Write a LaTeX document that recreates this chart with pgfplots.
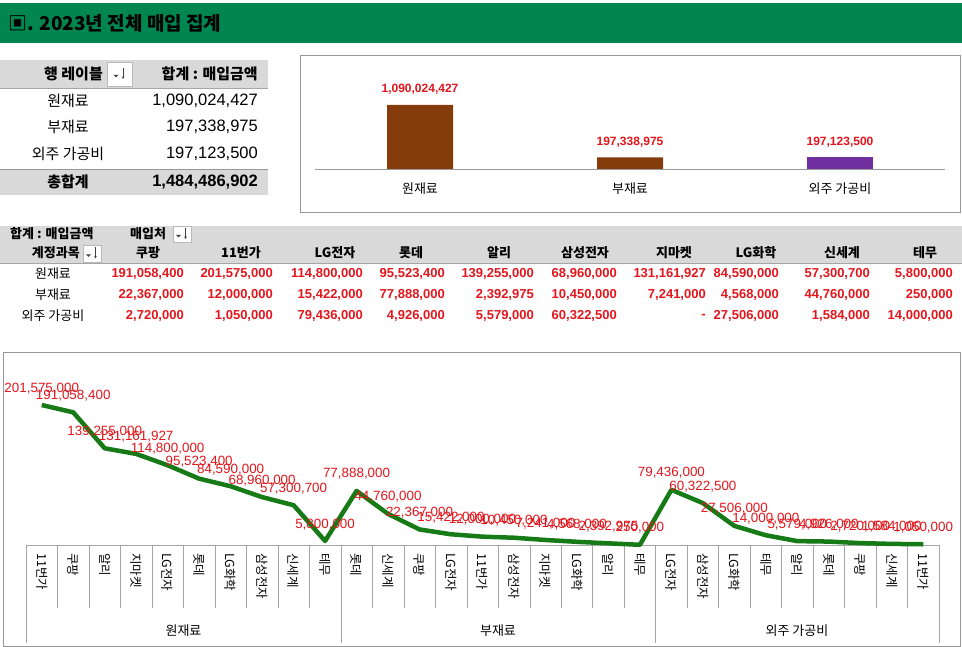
\documentclass[border=0pt]{standalone}
\usepackage{fontspec}
\setmainfont{Noto Sans CJK KR}
\newfontfamily\numf{Liberation Sans}
\usepackage{pgfplots}
\pgfplotsset{compat=1.18}
\usepackage{pgfplotstable}
\usetikzlibrary{arrows.meta}

\definecolor{hdrgreen}{RGB}{0,134,78}
\definecolor{tgray}{RGB}{217,217,217}
\definecolor{vred}{RGB}{226,22,28}
\definecolor{barbrown}{RGB}{132,60,12}
\definecolor{barpurple}{RGB}{112,48,160}
\definecolor{linegreen}{RGB}{22,122,22}
\definecolor{boxgray}{RGB}{150,150,150}
\newcommand\fs[1]{\fontsize{#1}{#1}\selectfont}

% 행 레이블 totals
\pgfplotstableread{
x y lbl
0 1090024427 1,090,024,427
1 197338975 197,338,975
}\bardata
\pgfplotstableread{
x y lbl
2 197123500 197,123,500
}\barpurpledata

% 계정과목 > 매입처, sorted within each group
\pgfplotstableread{
x y lbl cat
0 201575000 201,575,000 11번가
1 191058400 191,058,400 쿠팡
2 139255000 139,255,000 알리
3 131161927 131,161,927 지마켓
4 114800000 114,800,000 LG전자
5 95523400 95,523,400 롯데
6 84590000 84,590,000 LG화학
7 68960000 68,960,000 삼성전자
8 57300700 57,300,700 신세계
9 5800000 5,800,000 테무
10 77888000 77,888,000 롯데
11 44760000 44,760,000 신세계
12 22367000 22,367,000 쿠팡
13 15422000 15,422,000 LG전자
14 12000000 12,000,000 11번가
15 10450000 10,450,000 삼성전자
16 7241000 7,241,000 지마켓
17 4568000 4,568,000 LG화학
18 2392975 2,392,975 알리
19 250000 250,000 테무
20 79436000 79,436,000 LG전자
21 60322500 60,322,500 삼성전자
22 27506000 27,506,000 LG화학
23 14000000 14,000,000 테무
24 5579000 5,579,000 알리
25 4926000 4,926,000 롯데
26 2720000 2,720,000 쿠팡
27 1584000 1,584,000 신세계
28 1050000 1,050,000 11번가
}\linedata

\newcommand\filterbtn[4]{%
  \draw[gray!55, fill=white] (#1,#2) rectangle (#3,#4);
  \fill[black!75] ({(#1+#3)/2-6},{(#2+#4)/2-1}) -- ++(5,0) -- ++(-2.5,-2.5) -- cycle;
  \draw[black!75, line width=0.6pt, -{Stealth[length=2.5pt,width=2.5pt]}] ({(#1+#3)/2+3.5},{(#2+#4)/2+6}) -- ({(#1+#3)/2+3.5},{(#2+#4)/2-5});
}

\begin{document}
\begin{tikzpicture}[x=1pt,y=1pt]
\useasboundingbox (0,0) rectangle (962,647);

% title band
\fill[hdrgreen] (0,604) rectangle (962,644);
\node[anchor=west, inner sep=0, font=\fs{19}\bfseries] at (8,624) {▣. 2023년 전체 매입 집계};

% pivot table 1
\fill[tgray] (0,559) rectangle (268,587);
\draw[gray!70] (0,559) -- (268,559);
\node[anchor=east, inner sep=0, font=\fs{15}\bfseries] at (103,573) {행 레이블};
\filterbtn{107}{561}{132}{585}
\node[anchor=east, inner sep=0, font=\fs{15}\bfseries] at (258,573) {합계 : 매입금액};
\node[font=\fs{15}] at (68,546) {원재료};
\node[font=\fs{15}] at (68,520) {부재료};
\node[font=\fs{15}] at (68,493) {외주 가공비};
\node[anchor=east, inner sep=0, font=\numf\fs{16.5}] at (258,546) {1,090,024,427};
\node[anchor=east, inner sep=0, font=\numf\fs{16.5}] at (258,520) {197,338,975};
\node[anchor=east, inner sep=0, font=\numf\fs{16.5}] at (258,493) {197,123,500};
\fill[tgray] (0,452) rectangle (268,478);
\draw[gray!80] (0,478) -- (268,478);
\node[font=\fs{15}\bfseries] at (68,465) {총합계};
\node[anchor=east, inner sep=0, font=\numf\fs{16.5}\bfseries] at (258,465) {1,484,486,902};

% bar chart
\draw[boxgray, fill=white] (300,435) rectangle (960,592);
\begin{axis}[
  at={(315pt,478pt)}, anchor=south west,
  scale only axis, width=630pt, height=100pt,
  xmin=-0.5, xmax=2.5, ymin=0, ymax=1.7032e9,
  hide y axis, axis x line*=bottom,
  x axis line style={-, gray!80, line width=0.8pt},
  xtick={0,1,2}, xticklabels={원재료,부재료,외주 가공비},
  major tick length=0pt,
  xticklabel style={font=\fs{13}, inner sep=0pt, anchor=north, yshift=-14pt},
  ybar, bar width=66pt, /pgf/bar shift=0pt,
  point meta=explicit symbolic,
  nodes near coords,
  nodes near coords style={font=\numf\fs{12}\bfseries, text=vred, anchor=south, inner sep=0pt, yshift=10pt},
  clip=false,
]
  \addplot[fill=barbrown, draw=none] table[x=x, y=y, meta=lbl] {\bardata};
  \addplot[fill=barpurple, draw=none] table[x=x, y=y, meta=lbl] {\barpurpledata};
\end{axis}

% pivot table 2
\fill[tgray] (0,384) rectangle (962,421);
\draw[gray!70] (0,384) -- (962,384);
\node[anchor=west, inner sep=0, font=\fs{13}\bfseries] at (10,413) {합계 : 매입금액};
\node[anchor=west, inner sep=0, font=\fs{13}\bfseries] at (130,413) {매입처};
\filterbtn{173}{405}{191}{421}
\node[anchor=east, inner sep=0, font=\fs{13}\bfseries] at (80,394) {계정과목};
\filterbtn{83}{385}{101}{402}
\node[font=\fs{13}] at (53,373) {원재료};
\node[font=\fs{13}] at (53,352) {부재료};
\node[font=\fs{13}] at (53,331) {외주 가공비};
\foreach \nm/\cx/\rx/\va/\vb/\vc in {
  쿠팡/148/184/{191,058,400}/{22,367,000}/{2,720,000},
  11번가/241/273/{201,575,000}/{12,000,000}/{1,050,000},
  LG전자/335/363/{114,800,000}/{15,422,000}/{79,436,000},
  롯데/411/445/{95,523,400}/{77,888,000}/{4,926,000},
  알리/499/534/{139,255,000}/{2,392,975}/{5,579,000},
  삼성전자/585/617/{68,960,000}/{10,450,000}/{60,322,500},
  지마켓/674/706/{131,161,927}/{7,241,000}/{-\hspace{3pt}},
  LG화학/756/779/{84,590,000}/{4,568,000}/{27,506,000},
  신세계/842/870/{57,300,700}/{44,760,000}/{1,584,000},
  테무/925/953/{5,800,000}/{250,000}/{14,000,000}} {
  \node[font=\fs{13}\bfseries] at (\cx,394) {\nm};
  \node[anchor=east, inner sep=0, font=\numf\fs{13}\bfseries, text=vred] at (\rx,373) {\va};
  \node[anchor=east, inner sep=0, font=\numf\fs{13}\bfseries, text=vred] at (\rx,352) {\vb};
  \node[anchor=east, inner sep=0, font=\numf\fs{13}\bfseries, text=vred] at (\rx,331) {\vc};
}

% line chart
\draw[boxgray, fill=white] (3,1) rectangle (960,295);
\foreach \k in {0,...,29} {
  \draw[gray!70] ({26+\k*31.4828},102) -- ({26+\k*31.4828},39);
}
\foreach \k in {0,10,20,29} {
  \draw[gray!70] ({26+\k*31.4828},102) -- ({26+\k*31.4828},4);
}
\node[font=\fs{13}] at (183.5,16) {원재료};
\node[font=\fs{13}] at (498,16) {부재료};
\node[font=\fs{13}] at (797,16) {외주 가공비};
\begin{axis}[
  at={(26pt,102pt)}, anchor=south west,
  scale only axis, width=913pt, height=173.6pt,
  xmin=-0.5, xmax=28.5, ymin=0, ymax=250000000,
  hide y axis, axis x line*=bottom,
  x axis line style={-, gray!70},
  xtick={0,...,28},
  xticklabels from table={\linedata}{cat},
  major tick length=0pt,
  xticklabel style={font=\fs{12.5}, inner sep=0pt, yshift=-8pt, rotate=-90, anchor=west},
  point meta=explicit symbolic,
  nodes near coords,
  nodes near coords style={font=\numf\fs{13.4}, text=vred, anchor=south, inner sep=0pt, yshift=9pt},
  clip=false,
]
  \addplot[linegreen, line width=4.5pt, line join=round, mark=none] table[x=x, y=y, meta=lbl] {\linedata};
\end{axis}
\end{tikzpicture}
\end{document}
